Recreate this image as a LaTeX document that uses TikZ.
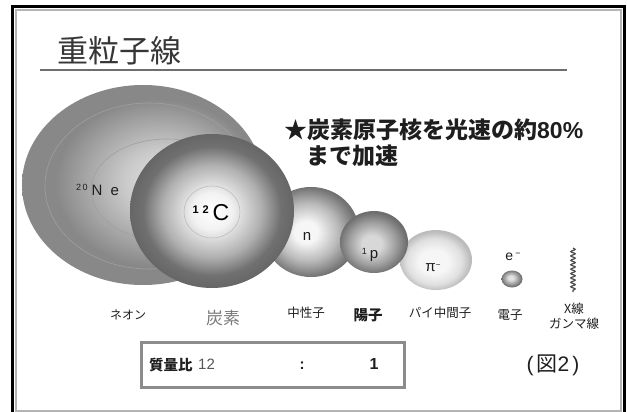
\documentclass[tikz,border=0pt]{standalone}
\usepackage{fontspec}
\setmainfont{Noto Sans CJK JP}
\newfontfamily\latin{Liberation Sans}
\usetikzlibrary{shapes.geometric,decorations.pathmorphing}

% grey tones
\definecolor{titlegray}{HTML}{363636}
\definecolor{rulegray}{HTML}{6E6E6E}
\definecolor{framegray}{HTML}{B4B4B4}
\definecolor{boxgray}{HTML}{8C8C8C}
\definecolor{inkgray}{HTML}{1E1E1E}
\definecolor{softgray}{HTML}{7A7A7A}
\definecolor{ringgray}{HTML}{A0A0A0}

% sphere gradients
\definecolor{neA}{HTML}{E4E4E4}\definecolor{neB}{HTML}{CACACA}
\definecolor{neC}{HTML}{A2A2A2}\definecolor{neD}{HTML}{888888}
\pgfdeclareradialshading{neonball}{\pgfpoint{5bp}{1bp}}{%
  color(0bp)=(neA); color(8bp)=(neB); color(16bp)=(neC);
  color(21bp)=(neD); color(25bp)=(neD); color(50bp)=(neD)}

\definecolor{cA}{HTML}{FFFFFF}\definecolor{cB}{HTML}{F2F2F2}
\definecolor{cC}{HTML}{B0B0B0}\definecolor{cD}{HTML}{707070}
\definecolor{cE}{HTML}{666666}
\pgfdeclareradialshading{carbonball}{\pgfpoint{0bp}{0bp}}{%
  color(0bp)=(cA); color(6bp)=(cB); color(15bp)=(cC);
  color(21bp)=(cD); color(25bp)=(cE); color(50bp)=(cE)}

\definecolor{nA}{HTML}{F6F6F6}\definecolor{nB}{HTML}{BABABA}
\definecolor{nC}{HTML}{727272}
\pgfdeclareradialshading{neutronball}{\pgfpoint{-3bp}{0bp}}{%
  color(0bp)=(nA); color(6bp)=(nA); color(16bp)=(nB);
  color(25bp)=(nC); color(50bp)=(nC)}

\definecolor{pA}{HTML}{D8D8D8}\definecolor{pB}{HTML}{A0A0A0}
\definecolor{pC}{HTML}{6E6E6E}
\pgfdeclareradialshading{protonball}{\pgfpoint{-2bp}{-2bp}}{%
  color(0bp)=(pA); color(7bp)=(pA); color(17bp)=(pB);
  color(25bp)=(pC); color(50bp)=(pC)}

\definecolor{piA}{HTML}{F6F6F6}\definecolor{piB}{HTML}{E0E0E0}
\definecolor{piC}{HTML}{BBBBBB}
\pgfdeclareradialshading{pionball}{\pgfpoint{-2bp}{-2bp}}{%
  color(0bp)=(piA); color(10bp)=(piA); color(19bp)=(piB);
  color(25bp)=(piC); color(50bp)=(piC)}

\definecolor{eA}{HTML}{E2E2E2}\definecolor{eC}{HTML}{6C6C6C}
\pgfdeclareradialshading{electronball}{\pgfpoint{-3bp}{4bp}}{%
  color(0bp)=(eA); color(6bp)=(eA);
  color(25bp)=(eC); color(50bp)=(eC)}

\tikzset{
  ball/.style={ellipse, inner sep=0pt, shade, shading=#1},
  ring/.style={draw=ringgray, line width=0.6pt},
  partlabel/.style={font=\fontsize{12.5}{12.5}\selectfont, text=inkgray},
  symbol/.style={font=\latin\fontsize{15}{15}\selectfont, text=inkgray},
}

\begin{document}
\begin{tikzpicture}[x=1pt, y=-1pt]
  \useasboundingbox (0,0) rectangle (627,412);

  % slide frame
  \draw[framegray, line width=2pt] (16,10) rectangle (621,410.5);
  \draw[black, line width=3pt] (12.5,420) -- (12.5,6.5) -- (624.5,6.5) -- (624.5,420);

  % heading and rule
  \node[font=\fontsize{31}{31}\selectfont, text=titlegray] (title) at (119,51) {重粒子線};
  \coordinate (ruleL) at (40,70);
  \coordinate (ruleR) at (567,70);
  \draw[rulegray, line width=2.2pt] (ruleL) -- (ruleR);

  % statement
  \node[anchor=west, font=\fontsize{23}{23}\selectfont\bfseries, text=inkgray, inner sep=0pt]
    (lead1) at (284,130) {★炭素原子核を光速の約{\latin\bfseries 80\%}};
  \node[anchor=west, font=\fontsize{23}{23}\selectfont\bfseries, text=inkgray, inner sep=0pt]
    (lead2) at (306,156) {まで加速};

  % particles, back to front
  \node[ball=neonball, minimum width=242pt, minimum height=200pt] (neon) at (143,185) {};
  \draw[ring] (149,186) ellipse [x radius=104pt, y radius=83pt];
  \draw[ring] (167,190) ellipse [x radius=76pt, y radius=51pt];
  \node[symbol, anchor=west, inner sep=0pt] (neonsym) at (76,190)
    {\raisebox{0.55ex}{\fontsize{9}{9}\selectfont 2\,0}\hspace{4pt}N\hspace{8pt}e};

  \node[ball=pionball, minimum width=72pt, minimum height=60pt] (pion) at (436,260) {};
  \node[ball=neutronball, minimum width=96pt, minimum height=90pt] (neutron) at (311,232) {};
  \node[ball=protonball, minimum width=68pt, minimum height=62pt] (proton) at (374,242) {};
  \node[ball=carbonball, minimum width=164pt, minimum height=154pt] (carbon) at (212,211) {};
  \draw[draw=ringgray!70, line width=0.6pt] (212,212) ellipse [x radius=28pt, y radius=26pt];
  \node[ball=electronball, minimum width=21pt, minimum height=17pt] (electron) at (512,279) {};

  % particle symbols
  \node[font=\latin\fontsize{23}{23}\selectfont, text=black] (csym) at (211,213)
    {\raisebox{0.6ex}{\fontsize{11}{11}\selectfont\bfseries 1\,\,2}\hspace{4pt}C};
  \node[symbol] (nsym) at (307,236) {n};
  \node[symbol] (psym) at (370,255) {\raisebox{0.5ex}{\fontsize{9}{9}\selectfont 1}\hspace{3pt}p};
  \node[symbol] (pisym) at (433,268) {π\raisebox{0.6ex}{\fontsize{8}{8}\selectfont −}};
  \node[symbol, font=\latin\fontsize{14}{14}\selectfont] (esym) at (513,257)
    {e\raisebox{0.6ex}{\fontsize{9}{9}\selectfont\hspace{2pt}−}};

  % X-ray / gamma wave
  \coordinate (waveT) at (573,248);
  \coordinate (waveB) at (573,292);
  \draw[inkgray!80, line width=1.2pt,
        decorate, decoration={snake, amplitude=2.2pt, segment length=4.4pt}]
    (waveT) -- (waveB);

  % names
  \node[partlabel, font=\fontsize{12}{12}\selectfont] (neonname) at (128,315) {ネオン};
  \node[partlabel, font=\fontsize{17}{17}\selectfont, text=softgray] (carbonname) at (223,318) {炭素};
  \node[partlabel] (neutronname) at (306,313) {中性子};
  \node[partlabel, font=\fontsize{14.5}{14.5}\selectfont\bfseries] (protonname) at (368,315) {陽子};
  \node[partlabel] (pionname) at (440,313) {パイ中間子};
  \node[partlabel] (electronname) at (510,315) {電子};
  \node[partlabel, align=center, font=\fontsize{12.5}{15}\selectfont] (xrayname) at (574,316)
    {X線\\ガンマ線};

  % mass ratio box
  \node[draw=boxgray, line width=3pt, minimum width=263pt, minimum height=45pt,
        inner sep=0pt] (ratiobox) at (272.5,365) {};
  \node[anchor=west, font=\fontsize{14.5}{14.5}\selectfont\bfseries, text=inkgray, inner sep=0pt]
    (ratiolabel) at (149,365) {質量比};
  \node[anchor=west, font=\latin\fontsize{15}{15}\selectfont, text=inkgray!75, inner sep=0pt]
    (ratioC) at (198,364) {12};
  \node[font=\latin\fontsize{15}{15}\selectfont\bfseries, text=inkgray] (ratiocolon) at (302,366) {:};
  \node[font=\latin\fontsize{16}{16}\selectfont\bfseries, text=inkgray] (ratioP) at (374,364) {1};

  % figure number
  \node[font=\fontsize{21}{21}\selectfont, text=inkgray] (fignum) at (553,365)
    {{\latin (}\hspace{3pt}図{\latin 2}\hspace{3pt}{\latin )}};
\end{tikzpicture}
\end{document}
